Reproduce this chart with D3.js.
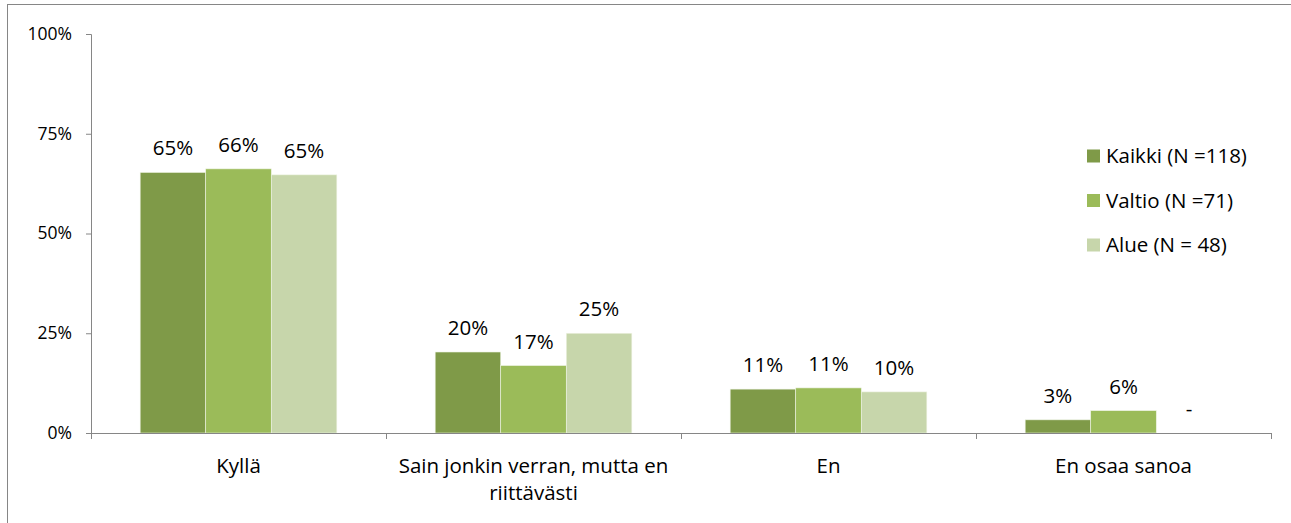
<!DOCTYPE html>
<html><head><meta charset="utf-8">
<script src="https://cdn.jsdelivr.net/npm/d3@7"></script>
<style>body{margin:0;background:#fff}text{font-family:"Open Sans",Lato,sans-serif;fill:#000}</style>
</head><body><svg id="c" width="1291" height="523"></svg>
<script>
const categories = ["Kyllä", "Sain jonkin verran, mutta en riittävästi", "En", "En osaa sanoa"];
const categoryLines = [["Kyllä"], ["Sain jonkin verran, mutta en", "riittävästi"], ["En"], ["En osaa sanoa"]];
const seriesNames = ["Kaikki (N =118)", "Valtio (N =71)", "Alue (N = 48)"];
const kaikki = [0.653, 0.203, 0.110, 0.033];
const valtio = [0.662, 0.169, 0.113, 0.056];
const alue = [0.647, 0.250, 0.103, 0];
const valueLabels = [["65%","20%","11%","3%"],["66%","17%","11%","6%"],["65%","25%","10%","-"]];
const yTicks = [0, 0.25, 0.5, 0.75, 1];
const colors = ["#7f9a48", "#9bbb59", "#c7d6ab"];
const series = [kaikki, valtio, alue];

const svg = d3.select("#c");
svg.append("rect").attr("x",7.5).attr("y",4.5).attr("width",1290).attr("height",530)
  .attr("fill","none").attr("stroke","#868686").attr("stroke-width",1);

const pL=91, pR=1271, pT=34, pB=433;
const x = d3.scaleBand().domain(categories).range([pL,pR]).paddingInner(0).paddingOuter(0);
const y = d3.scaleLinear().domain([0,1]).range([pB,pT]);
const bw = x.bandwidth()/4.5;
const xs = d3.scaleBand().domain([0,1,2]).range([0.75*bw, 3.75*bw]);

// y axis
const ya = svg.append("g").attr("transform",`translate(${pL},0)`)
  .call(d3.axisLeft(y).tickValues(yTicks).tickFormat(d3.format(".0%")).tickSize(5).tickPadding(14));
ya.select(".domain").attr("stroke","#868686").attr("d",`M-5,${pT+0.5}H0.5V${pB}`);
ya.selectAll(".tick line").attr("stroke","#868686");
ya.selectAll(".tick text").style("font-size","17.5px").attr("fill","#000").attr("dy","0.3em");

// bars
series.forEach((s,si)=>{
  svg.append("g").selectAll("rect").data(s).join("rect")
    .attr("x",(d,i)=>x(categories[i])+xs(si))
    .attr("width",xs.bandwidth())
    .attr("y",d=>y(d)).attr("height",d=>pB-y(d))
    .attr("fill",colors[si]).attr("stroke","#eef3e4").attr("stroke-width",0.6);
  svg.append("g").selectAll("text").data(s).join("text")
    .attr("x",(d,i)=>x(categories[i])+xs(si)+xs.bandwidth()/2)
    .attr("y",d=>y(d)-17)
    .attr("text-anchor","middle").style("font-size","20.5px")
    .text((d,i)=>valueLabels[si][i]);
});

// x axis
const xa = svg.append("g").attr("transform",`translate(0,${pB})`);
xa.append("line").attr("x1",pL).attr("x2",pR).attr("y1",0.5).attr("y2",0.5).attr("stroke","#868686");
const bounds = categories.map(c=>x(c)).concat([pR]);
xa.selectAll("line.t").data(bounds).join("line").attr("class","t")
  .attr("x1",d=>Math.round(d)+0.5).attr("x2",d=>Math.round(d)+0.5).attr("y1",0).attr("y2",6).attr("stroke","#868686");
categories.forEach((c,i)=>{
  const t = svg.append("text").attr("text-anchor","middle").style("font-size","20.5px")
    .attr("x",x(c)+x.bandwidth()/2).attr("y",473);
  categoryLines[i].forEach((ln,j)=>t.append("tspan").attr("x",x(c)+x.bandwidth()/2).attr("dy",j?27:0).text(ln));
});

// legend
const lg = svg.append("g").attr("transform","translate(1087,0)");
seriesNames.forEach((n,i)=>{
  const cy = 156 + i*44.5;
  lg.append("rect").attr("x",0).attr("y",cy-6.5).attr("width",13).attr("height",13).attr("fill",colors[i]);
  lg.append("text").attr("x",19).attr("y",cy+7).style("font-size","20.5px").text(n);
});
</script></body></html>
